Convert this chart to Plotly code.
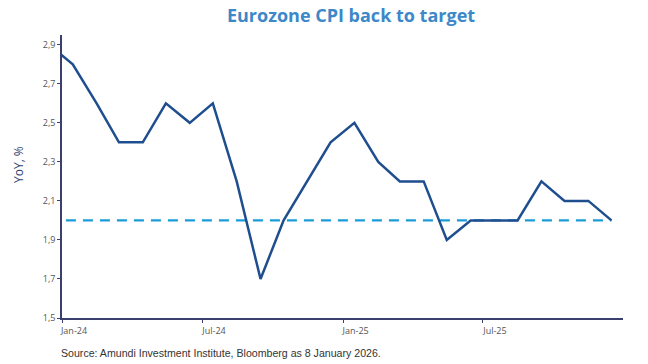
import plotly.graph_objects as go

months = ["2023-12-15", "2024-01-15", "2024-02-15", "2024-03-15", "2024-04-15", "2024-05-15",
          "2024-06-15", "2024-07-15", "2024-08-15", "2024-09-15", "2024-10-15", "2024-11-15",
          "2024-12-15", "2025-01-15", "2025-02-15", "2025-03-15", "2025-04-15", "2025-05-15",
          "2025-06-15", "2025-07-15", "2025-08-15", "2025-09-15", "2025-10-15", "2025-11-15",
          "2025-12-15"]
cpi_yoy = [2.9, 2.8, 2.6, 2.4, 2.4, 2.6, 2.5, 2.6, 2.2, 1.7, 2.0, 2.2,
           2.4, 2.5, 2.3, 2.2, 2.2, 1.9, 2.0, 2.0, 2.0, 2.2, 2.1, 2.1, 2.0]
target = [2.0] * len(months)

x_tickvals = ["2024-01-01", "2024-07-01", "2025-01-01", "2025-07-01"]
x_ticktext = ["Jan-24", "Jul-24", "Jan-25", "Jul-25"]
y_tickvals = [1.5, 1.7, 1.9, 2.1, 2.3, 2.5, 2.7, 2.9]

axis_col = "#3b3f6e"
W, H = 648, 364
L, R, T, B = 62, 25, 35, 46
PW, PH = W - L - R, H - T - B

fig = go.Figure()
fig.add_trace(go.Scatter(x=months, y=target, mode="lines",
                         line=dict(color="#1b9bd7", width=2.2, dash="10px,7px"),
                         hoverinfo="skip", showlegend=False))
fig.add_trace(go.Scatter(x=months, y=cpi_yoy, mode="lines",
                         line=dict(color="#1f4e8f", width=2.5),
                         showlegend=False))

fig.update_layout(
    width=W, height=H,
    margin=dict(l=L, r=R, t=T, b=B),
    paper_bgcolor="white", plot_bgcolor="white",
    separators=",.",
    font=dict(family="Open Sans", color="#555555"),
    title=dict(text="<b>Eurozone CPI back to target</b>",
               font=dict(family="Open Sans", size=18, color="#3c88c8"),
               x=351 / W, xref="container", xanchor="center",
               y=1 - 16 / H, yref="container", yanchor="middle"),
    xaxis=dict(type="date", range=["2024-01-01", "2025-12-30"],
               tickvals=x_tickvals, ticktext=x_ticktext,
               showgrid=False, zeroline=False,
               showline=True, linecolor=axis_col, linewidth=1.5,
               ticks="outside", ticklen=3, tickcolor=axis_col, tickwidth=1,
               tickfont=dict(family="Open Sans", size=9, color="#555555"),
               ticklabelshift=12, ticklabelstandoff=0),
    yaxis=dict(range=[1.5, 2.95], tickvals=y_tickvals, tickformat=".1f",
               showgrid=False, zeroline=False,
               showline=True, linecolor=axis_col, linewidth=1.5,
               ticks="outside", ticklen=3, tickcolor=axis_col, tickwidth=1,
               tickfont=dict(family="Open Sans", size=9, color="#555555")),
    annotations=[
        dict(text="YoY, %", textangle=-90,
             xref="paper", yref="paper", x=(18 - L) / PW, y=(H - B - 165) / PH,
             xanchor="center", yanchor="middle", showarrow=False,
             font=dict(family="Open Sans", size=12, color="#2d3e70")),
        dict(text="Source: Amundi Investment Institute, Bloomberg as 8 January 2026.",
             xref="paper", yref="paper", x=-3 / PW, y=-(353 - (H - B)) / PH,
             xanchor="left", yanchor="middle", showarrow=False,
             font=dict(family="Liberation Sans", size=10.6, color="#333333")),
    ],
)

fig.write_html("out.html", config={"displayModeBar": False},
               post_script="document.body.style.margin='0';")
